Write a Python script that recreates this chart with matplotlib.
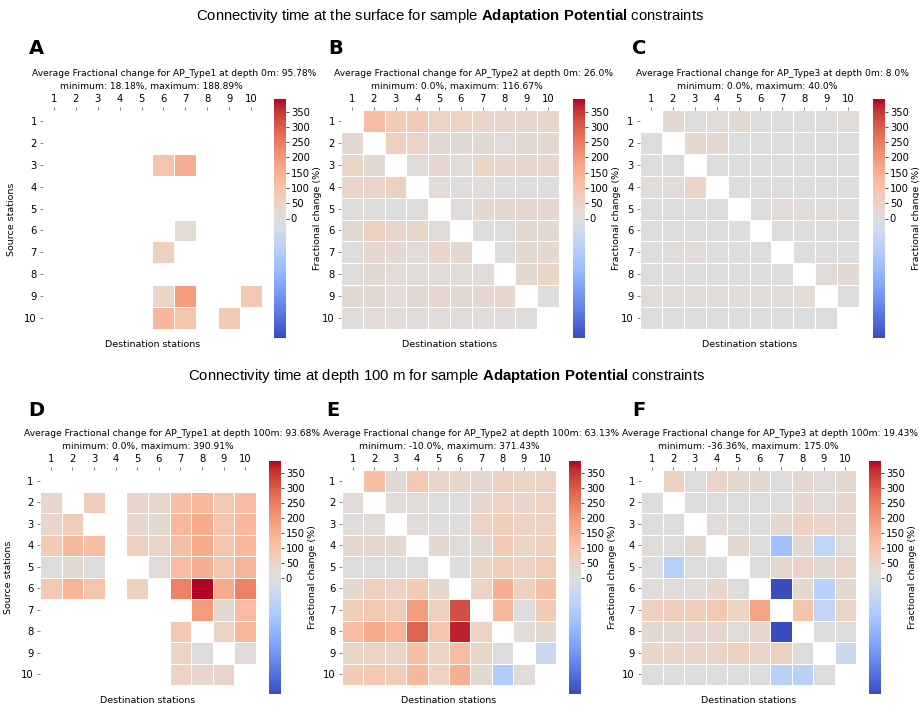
import numpy as np
import matplotlib
matplotlib.use("Agg")
import matplotlib.pyplot as plt
from matplotlib.colors import TwoSlopeNorm

nan = np.nan
stations = [str(i) for i in range(1, 11)]

# rows = source stations, columns = destination stations (fractional change %)
type1_0m = [
    [nan] * 10,
    [nan] * 10,
    [nan, nan, nan, nan, nan, 100, 150, nan, nan, nan],
    [nan] * 10,
    [nan] * 10,
    [nan, nan, nan, nan, nan, nan, 18.18, nan, nan, nan],
    [nan, nan, nan, nan, nan, 60, nan, nan, nan, nan],
    [nan] * 10,
    [nan, nan, nan, nan, nan, 40, 188.89, nan, nan, 90],
    [nan, nan, nan, nan, nan, 130, 100, nan, 80, nan],
]
type2_0m = [
    [nan, 116.67, 80, 80, 50, 50, 40, 30, 30, 40],
    [20, nan, 60, 45, 20, 20, 20, 10, 20, 30],
    [40, 20, nan, 5, 25, 10, 40, 30, 30, 30],
    [40, 45, 60, nan, 15, 5, 10, 5, 5, 5],
    [5, 5, 0, 5, nan, 10, 30, 30, 30, 30],
    [20, 60, 35, 40, 10, nan, 5, 5, 20, 20],
    [5, 30, 20, 10, 35, 30, nan, 5, 20, 30],
    [5, 20, 15, 10, 10, 5, 10, nan, 25, 40],
    [20, 20, 15, 20, 25, 20, 25, 30, nan, 5],
    [5, 15, 10, 10, 10, 10, 10, 10, 5, nan],
]
type3_0m = [
    [nan, 20, 5, 15, 20, 5, 5, 5, 5, 10],
    [8, nan, 25, 25, 3, 3, 3, 3, 3, 3],
    [2, 2, nan, 2, 2, 2, 2, 2, 2, 2],
    [12, 12, 40, nan, 3, 3, 3, 3, 3, 3],
    [2, 2, 2, 2, nan, 2, 15, 8, 8, 8],
    [3, 3, 3, 3, 3, nan, 3, 3, 3, 3],
    [3, 12, 12, 3, 3, 3, nan, 3, 3, 3],
    [3, 3, 3, 3, 3, 3, 3, nan, 12, 20],
    [8, 8, 8, 8, 12, 8, 8, 18, nan, 2],
    [2, 2, 2, 2, 2, 2, 2, 2, 2, nan],
]
type1_100m = [
    [nan] * 10,
    [35, nan, 70, nan, 35, 30, 110, 130, 90, 120],
    [35, 70, nan, nan, 30, 20, 130, 160, 100, 130],
    [80, 130, 110, nan, 60, 40, 110, 160, 100, 130],
    [5, 20, 0, nan, nan, 10, 120, 150, 100, 140],
    [90, 140, 100, nan, 60, nan, 240, 390.91, 160, 240],
    [nan, nan, nan, nan, nan, nan, nan, 190, 20, 120],
    [nan, nan, nan, nan, nan, nan, 90, nan, 50, 130],
    [nan, nan, nan, nan, nan, nan, 50, 5, nan, 10],
    [nan, nan, nan, nan, nan, nan, 50, 35, 45, nan],
]
type2_100m = [
    [nan, 110, 20, 90, 35, 40, 30, 60, 40, 50],
    [10, nan, 15, 15, 5, 5, 30, 50, 35, 50],
    [5, 10, nan, 10, 5, 5, 50, 70, 50, 50],
    [30, 30, 20, nan, 25, 5, 20, 80, 40, 60],
    [5, 5, 5, 5, nan, 5, 40, 70, 50, 70],
    [30, 60, 50, 80, 30, nan, 50, 150, 60, 110],
    [70, 90, 70, 190, 60, 320, nan, 130, 3, 80],
    [120, 160, 140, 290, 100, 371.43, 50, nan, 15, 20],
    [40, 50, 40, 110, 50, 120, 40, 5, nan, -5],
    [80, 90, 70, 130, 50, 150, 20, -10, 10, nan],
]
type3_100m = [
    [nan, 60, 5, 45, 30, 20, 5, 30, 10, 30],
    [3, nan, 3, 3, 3, 3, 3, 25, 10, 30],
    [3, 3, nan, 10, 5, 5, 30, 55, 35, 35],
    [10, 5, 25, nan, 25, 5, -14, 20, -7, 15],
    [3, -9, 3, 3, nan, 5, 30, 50, 20, 45],
    [8, 8, 10, 35, 5, nan, -36.36, 30, -9, 25],
    [60, 70, 70, 90, 50, 175, nan, 100, -7, 50],
    [20, 25, 25, 30, 10, 30, -36.36, nan, 5, 3],
    [40, 40, 40, 45, 60, 45, 60, 5, nan, -5],
    [3, 3, 3, 3, 3, 3, -9, -9, 3, nan],
]

titles = [
    ("Average Fractional change for AP_Type1 at depth 0m: 95.78%", "minimum: 18.18%, maximum: 188.89%"),
    ("Average Fractional change for AP_Type2 at depth 0m: 26.0%", "minimum: 0.0%, maximum: 116.67%"),
    ("Average Fractional change for AP_Type3 at depth 0m: 8.0%", "minimum: 0.0%, maximum: 40.0%"),
    ("Average Fractional change for AP_Type1 at depth 100m: 93.68%", "minimum: 0.0%, maximum: 390.91%"),
    ("Average Fractional change for AP_Type2 at depth 100m: 63.13%", "minimum: -10.0%, maximum: 371.43%"),
    ("Average Fractional change for AP_Type3 at depth 100m: 19.43%", "minimum: -36.36%, maximum: 175.0%"),
]
panel_letters = ["A", "B", "C", "D", "E", "F"]
data = [type1_0m, type2_0m, type3_0m, type1_100m, type2_100m, type3_100m]

W, H = 919, 706
fig = plt.figure(figsize=(W / 100, H / 100), dpi=100)

def px(l, t, w, h):
    return [l / W, 1 - (t + h) / H, w / W, h / H]

# pixel layout: heatmap box, colorbar box, title line centers, letter pos
heat_boxes = [(43, 110, 219, 219), (341, 110, 218, 219), (640, 110, 219, 219),
              (40, 470, 216, 215), (342, 470, 214, 215), (641, 470, 215, 215)]
cbar_boxes = [(274, 99, 12, 239), (573, 99, 12, 239), (873, 99, 12, 239),
              (269, 461, 12, 233), (569, 461, 12, 233), (869, 461, 12, 233)]
title_x = [(174, 151), (474, 457), (772, 757), (172, 148), (471, 449), (770, 748)]
title_y = [(73, 86), (73, 86), (73, 86), (433, 446), (433, 446), (433, 446)]
letter_pos = [(36, 48), (336, 48), (639, 48), (36, 410), (333, 410), (639, 410)]

all_vals = np.array(data, dtype=float)
norm = TwoSlopeNorm(vmin=np.nanmin(all_vals), vcenter=0, vmax=np.nanmax(all_vals))
cmap = plt.get_cmap("coolwarm")

for i in range(6):
    ax = fig.add_axes(px(*heat_boxes[i]))
    z = np.ma.masked_invalid(np.array(data[i], dtype=float))
    mesh = ax.pcolormesh(np.arange(11), np.arange(11), z, cmap=cmap, norm=norm,
                         edgecolors="white", linewidth=0.6)
    ax.set_xlim(0, 10)
    ax.set_ylim(10, 0)
    ax.set_xticks(np.arange(10) + 0.5)
    ax.set_xticklabels(stations)
    ax.set_yticks(np.arange(10) + 0.5)
    ax.set_yticklabels(stations)
    ax.xaxis.tick_top()
    ax.tick_params(labelsize=7.2, length=2.5, width=0.5, color="#555555", pad=2)
    for s in ax.spines.values():
        s.set_visible(False)
    ax.set_xlabel("Destination stations", fontsize=6.8, labelpad=8)
    ax.xaxis.set_label_position("bottom")
    if i in (0, 3):
        ax.set_ylabel("Source stations", fontsize=6.8, labelpad=6)

    cax = fig.add_axes(px(*cbar_boxes[i]))
    cb = fig.colorbar(mesh, cax=cax)
    cb.set_ticks(np.arange(0, 400, 50))
    cb.outline.set_visible(False)
    cax.tick_params(labelsize=7.2, length=2.5, width=0.5, pad=1)
    cb.set_label("Fractional change (%)", fontsize=6.8, labelpad=2)

    l1, l2 = titles[i]
    fig.text(title_x[i][0] / W, 1 - title_y[i][0] / H, l1, fontsize=6.6,
             ha="center", va="center")
    fig.text(title_x[i][1] / W, 1 - title_y[i][1] / H, l2, fontsize=6.6,
             ha="center", va="center")
    fig.text(letter_pos[i][0] / W, 1 - letter_pos[i][1] / H, panel_letters[i],
             fontsize=14, fontweight="bold", ha="center", va="center")

plt.rcParams["mathtext.fontset"] = "custom"
plt.rcParams["mathtext.rm"] = "Liberation Sans"
plt.rcParams["mathtext.bf"] = "Liberation Sans:bold"
fig.text(450 / W, 1 - 16 / H,
         r"Connectivity time at the surface for sample $\mathbf{Adaptation\ Potential}$ constraints",
         fontsize=10.7, family="Liberation Sans", ha="center", va="center")
fig.text(447 / W, 1 - 376 / H,
         r"Connectivity time at depth 100 m for sample $\mathbf{Adaptation\ Potential}$ constraints",
         fontsize=10.7, family="Liberation Sans", ha="center", va="center")

fig.savefig("out.png", dpi=100, facecolor="white")
